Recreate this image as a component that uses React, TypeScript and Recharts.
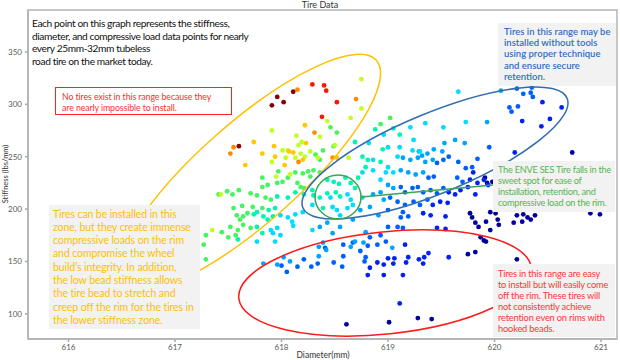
import React from 'react';
import { ScatterChart, Scatter, XAxis, YAxis } from 'recharts';

// diameter (mm), stiffness (lbs/mm) – grouped by compressive load colour band
const darkRedPts = [[617.91, 299], [617.96, 307], [618.02, 302], [618.11, 312], [617.6, 260]];
const redPts = [[618.29, 319], [618.4, 318], [618.42, 313], [618.52, 302], [618.38, 288]];
const orangePts = [[618.15, 314], [618.7, 305], [617.55, 259], [617.52, 253], [618.16, 245], [618.31, 273], [618.48, 249]];
const yellowPts = [
  [617.74, 264], [617.82, 253], [617.66, 242], [617.93, 260], [618.07, 255], [618.11, 254], [618.2, 247],
  [618.03, 242], [618.52, 249], [617.94, 250], [618.23, 263], [618.22, 280],
];
const limePts = [
  [617.91, 275], [618.14, 270], [618.19, 264], [618.16, 261], [618.01, 256], [618.06, 256], [618.36, 269],
  [618.43, 284], [618.65, 287], [618.75, 324], [618.75, 296], [618.5, 261], [618.27, 255], [618.18, 253],
  [618.04, 249], [618.13, 249], [617.91, 245], [618.22, 250], [618.34, 249], [618.63, 249], [617.95, 231],
  [618.08, 233], [617.43, 214], [617.35, 180],
];
const greenPts = [
  [618.46, 278], [618.52, 273], [618.39, 256], [618.49, 260], [618.93, 281], [618.36, 247], [618.32, 252],
  [619.02, 287], [617.82, 230], [617.87, 223], [617.96, 225], [618.01, 226], [618.06, 230], [618.13, 235],
  [618.15, 225], [618.18, 221], [618.21, 220], [618.25, 236], [618.27, 231], [618.3, 237], [618.36, 235],
  [617.97, 236], [618.2, 234], [617.49, 217], [617.54, 214], [617.6, 218], [617.71, 215], [617.77, 213],
  [617.85, 211], [617.9, 209], [617.41, 214], [617.82, 221], [617.55, 201], [617.63, 203], [617.68, 196],
  [617.73, 202], [617.82, 201], [617.58, 194], [617.64, 193], [617.61, 190], [617.29, 175], [617.44, 178],
  [617.52, 183], [617.57, 175], [617.64, 185], [617.27, 166], [617.71, 182], [617.59, 180], [617.5, 173],
  [617.29, 152],
];
const tealPts = [
  [618.69, 264], [618.88, 276], [618.95, 257], [618.76, 250], [618.81, 247], [618.93, 245], [618.79, 240],
  [618.43, 228], [618.49, 226], [618.54, 224], [618.6, 230], [618.65, 225], [618.72, 230], [617.96, 212],
  [618.06, 211], [618.13, 216], [618.21, 214], [618.29, 218], [618.36, 211], [618.43, 215], [618.51, 216],
  [618.55, 212], [618.69, 220], [618.3, 213], [617.77, 197], [617.88, 199], [617.94, 201], [618.39, 201],
  [617.77, 183], [617.82, 177], [617.74, 195], [617.83, 193], [617.87, 190], [617.92, 193], [617.59, 171],
  [619.05, 277], [619.11, 271],
];
const cyanPts = [
  [618.82, 263], [619.0, 259], [618.86, 247], [619.0, 240], [618.76, 235], [618.86, 237], [618.93, 228],
  [618.98, 235], [618.46, 211], [618.62, 214], [618.65, 209], [618.76, 211], [617.99, 194], [618.06, 192],
  [618.13, 195], [618.2, 197], [618.48, 202], [618.52, 199], [618.55, 194], [618.62, 201], [618.67, 204],
  [617.9, 180], [617.96, 182], [617.99, 175], [618.1, 188], [618.29, 180], [617.77, 169], [617.94, 169],
  [617.92, 177], [618.11, 184], [618.29, 204], [618.96, 271], [619.21, 278], [619.35, 282], [619.66, 312],
  [619.73, 283], [619.52, 278], [619.11, 259], [619.23, 256], [619.09, 250], [619.05, 235], [619.24, 266],
  [619.3, 255],
];
const skyPts = [
  [619.0, 223], [618.86, 214], [618.93, 216], [618.96, 209], [618.74, 199], [618.83, 202], [618.91, 194],
  [618.36, 183], [618.43, 187], [618.48, 177], [618.55, 183], [618.67, 190], [618.79, 178], [618.39, 168],
  [617.83, 148], [617.96, 147], [618.02, 154], [618.08, 150], [618.42, 161], [618.35, 164], [618.65, 164],
  [618.69, 169], [618.77, 168], [618.35, 155], [619.29, 255], [619.37, 253], [619.43, 257], [619.51, 255],
  [619.53, 263], [619.63, 266], [619.72, 263], [619.93, 283], [620.06, 313], [619.14, 249], [619.21, 247],
  [619.28, 249], [619.32, 251], [619.35, 245], [619.42, 247], [619.12, 237], [619.19, 235], [619.26, 233],
  [619.33, 235], [619.05, 220], [619.04, 163],
];
const bluePts = [
  [619.0, 199], [618.83, 173], [618.93, 175], [619.0, 183], [618.58, 166], [618.67, 168], [618.81, 165],
  [618.9, 166], [618.98, 169], [618.0, 146], [618.05, 140], [618.15, 145], [618.21, 152], [618.28, 145],
  [618.34, 148], [618.49, 149], [618.57, 145], [618.58, 155], [618.74, 160], [618.79, 154], [618.78, 150],
  [618.41, 163], [619.46, 244], [619.52, 247], [619.57, 250], [619.66, 245], [619.73, 239], [619.79, 240],
  [619.84, 248], [619.38, 230], [619.43, 231], [619.65, 230], [619.7, 226], [619.12, 221], [619.16, 216],
  [619.23, 220], [619.28, 221], [619.33, 216], [619.4, 218], [619.46, 215], [619.52, 220], [619.02, 211],
  [619.09, 207], [619.16, 204], [619.24, 207], [619.3, 204], [619.37, 209], [619.14, 197], [619.12, 192],
  [619.19, 193], [619.09, 183], [619.14, 182], [620.21, 315], [620.27, 310], [620.34, 311], [620.35, 316],
  [620.36, 307], [620.14, 297], [620.22, 298], [620.16, 293], [619.95, 259],
];
const deepBluePts = [
  [619.42, 204], [619.49, 207], [619.56, 206], [619.33, 196], [619.4, 194], [619.54, 193], [619.46, 182],
  [619.54, 181], [619.57, 216], [619.63, 214], [619.68, 218], [619.75, 221], [619.82, 214], [619.77, 228],
  [619.84, 225], [619.9, 228], [619.94, 223], [619.8, 235], [619.16, 166], [618.83, 144], [618.9, 149],
  [618.96, 147], [619.0, 153], [618.81, 137], [618.96, 137], [619.06, 153], [619.05, 148], [619.17, 149],
  [619.19, 154], [619.14, 137], [619.29, 152], [619.34, 154], [619.38, 158], [619.33, 148], [619.57, 154],
  [619.11, 110], [620.45, 302], [620.63, 297], [620.26, 284], [620.52, 286], [620.44, 279], [620.19, 254],
];
const navyPts = [
  [619.77, 196], [619.79, 192], [619.82, 187], [619.85, 183], [619.92, 188], [619.96, 197], [620.01, 196],
  [620.03, 190], [620.04, 185], [619.96, 180], [619.87, 173], [619.92, 169], [620.21, 194], [620.27, 195],
  [620.31, 192], [620.38, 194], [620.18, 187], [620.26, 188], [620.34, 190], [620.73, 254], [619.93, 225],
  [619.98, 226], [619.91, 230], [619.75, 157], [619.82, 159], [619.9, 170], [620.21, 152], [618.61, 90],
  [619.01, 92], [619.28, 96], [619.41, 95], [620.9, 196], [620.99, 195],
];

const xTicks = [616, 617, 618, 619, 620, 621];
const yTicks = [100, 150, 200, 250, 300, 350];

const groups = [
  { name: 'navy', color: '#00009e', pts: navyPts },
  { name: 'deepBlue', color: '#0022f2', pts: deepBluePts },
  { name: 'blue', color: '#0060ff', pts: bluePts },
  { name: 'sky', color: '#00a4ff', pts: skyPts },
  { name: 'cyan', color: '#00dcff', pts: cyanPts },
  { name: 'teal', color: '#00f5b0', pts: tealPts },
  { name: 'green', color: '#45f560', pts: greenPts },
  { name: 'lime', color: '#c2ff1e', pts: limePts },
  { name: 'yellow', color: '#ffc800', pts: yellowPts },
  { name: 'orange', color: '#ff8a00', pts: orangePts },
  { name: 'red', color: '#ff1500', pts: redPts },
  { name: 'darkRed', color: '#8b0000', pts: darkRedPts },
];

const FONT = "Lato, 'Liberation Sans', sans-serif";

const Dot = (props: any) => <circle cx={props.cx} cy={props.cy} r={2.4} fill={props.fill} />;

const Box = ({ left, top, width, height, color, lines, size, lh, bg = '#f2f2f2', pad = [3, 6], border, weight = 400, ls = 0 }: any) => (
  <div
    style={{
      position: 'absolute', left, top, width, height, boxSizing: 'border-box', background: bg,
      border, padding: `${pad[0]}px 0 0 ${pad[1]}px`, color, fontSize: size, lineHeight: `${lh}px`,
      fontFamily: FONT, fontWeight: weight, whiteSpace: 'nowrap', letterSpacing: ls,
    }}
  >
    {lines.map((l: string) => <div key={l}>{l}</div>)}
  </div>
);

export default function App() {
  return (
    <div style={{ position: 'absolute', left: 0, top: 0, width: 620, height: 360, background: '#fff' }}>
      <ScatterChart width={620} height={360} margin={{ top: 10, right: 3, bottom: 0, left: 0 }}>
        <XAxis
          type="number" dataKey="x" domain={[615.62, 621.15]} ticks={xTicks} allowDataOverflow
          height={21} tickSize={3} tickMargin={2} stroke="#a6a6a6" strokeWidth={1.5}
          tick={{ fontSize: 8, fill: '#595959', fontFamily: FONT }}
        />
        <YAxis
          type="number" dataKey="y" domain={[76, 390]} ticks={yTicks} allowDataOverflow
          width={28} tickSize={3} tickMargin={3} stroke="#a6a6a6" strokeWidth={1.5}
          tick={{ fontSize: 8, fill: '#595959', fontFamily: FONT }}
        />
        {groups.map((g) => (
          <Scatter
            key={g.name} name={g.name} data={g.pts.map(([x, y]) => ({ x, y }))}
            fill={g.color} shape={Dot} isAnimationActive={false}
          />
        ))}
      </ScatterChart>

      <svg width={620} height={360} style={{ position: 'absolute', left: 0, top: 0, pointerEvents: 'none' }}>
        <rect x={28} y={10} width={589} height={329} fill="none" stroke="#b4b4b4" strokeWidth={1.5} />
        <text x={320} y={8} textAnchor="middle" fontSize={9} fill="#333" fontFamily={FONT}>Tire Data</text>
        <text x={323} y={358} textAnchor="middle" fontSize={8.5} fill="#333" fontFamily={FONT}>Diameter(mm)</text>
        <text transform="translate(8,174) rotate(-90)" textAnchor="middle" fontSize={7.5} fill="#333" fontFamily={FONT}>
          Stiffness (lbs/mm)
        </text>
        <ellipse cx={249} cy={173} rx={170} ry={50} transform="rotate(-41.5 249 173)" fill="none" stroke="#ffc000" strokeWidth={1.5} />
        <ellipse cx={435} cy={153} rx={143} ry={40} transform="rotate(-22.5 435 153)" fill="none" stroke="#2e6db4" strokeWidth={1.5} />
        <ellipse cx={385} cy={283} rx={147} ry={51} transform="rotate(-6 385 283)" fill="none" stroke="#ff1a1a" strokeWidth={1.5} />
        <ellipse cx={338} cy={197} rx={23} ry={22} fill="none" stroke="#3aa655" strokeWidth={1.5} />
        <line x1={361} y1={197} x2={493} y2={185} stroke="#3aa655" strokeWidth={1.5} />
      </svg>

      <Box
        left={30} top={17} width={230} height={52} color="#111" size={10.2} lh={12.7} bg="transparent" pad={[0, 2]} ls={-0.4}
        lines={[
          'Each point on this graph represents the stiffness,',
          'diameter, and compressive load data points for nearly',
          'every 25mm-32mm tubeless',
          'road tire on the market today.',
        ]}
      />
      <Box
        left={55} top={87} width={177} height={28} color="#ff2d2d" size={8.8} lh={11} bg="#fff" pad={[3, 6]}
        border="1.5px solid #ff2020" ls={-0.1}
        lines={['No tires exist in this range because they', 'are nearly impossible to install.']}
      />
      <Box
        left={498} top={23} width={118} height={63} color="#2f6fc4" size={9.5} lh={11.2} pad={[3, 6]} weight={600}
        lines={['Tires in this range may be', 'installed without tools', 'using proper technique', 'and ensure secure', 'retention.']}
      />
      <Box
        left={493} top={161} width={122} height={51} color="#55b54f" size={9.2} lh={11.3} pad={[2.5, 5]} ls={-0.25}
        lines={['The ENVE SES Tire falls in the', 'sweet spot for ease of', 'installation, retention, and', 'compressive load on the rim.']}
      />
      <Box
        left={49} top={205} width={151} height={124} color="#ffbf00" size={10.5} lh={13.3} pad={[2.5, 4]} ls={-0.1}
        lines={[
          'Tires can be installed in this',
          'zone, but they create immense',
          'compressive loads on the rim',
          'and compromise the wheel',
          'build\u2019s integrity. In addition,',
          'the low bead stiffness allows',
          'the tire bead to stretch and',
          'creep off the rim for the tires in',
          'the lower stiffness zone.',
        ]}
      />
      <Box
        left={493} top={264} width={122} height={73} color="#ff3535" size={9.3} lh={11} pad={[3.5, 5]} ls={-0.2}
        lines={[
          'Tires in this range are easy',
          'to install but will easily come',
          'off the rim. These tires will',
          'not consistently achieve',
          'retention even on rims with',
          'hooked beads.',
        ]}
      />
    </div>
  );
}
